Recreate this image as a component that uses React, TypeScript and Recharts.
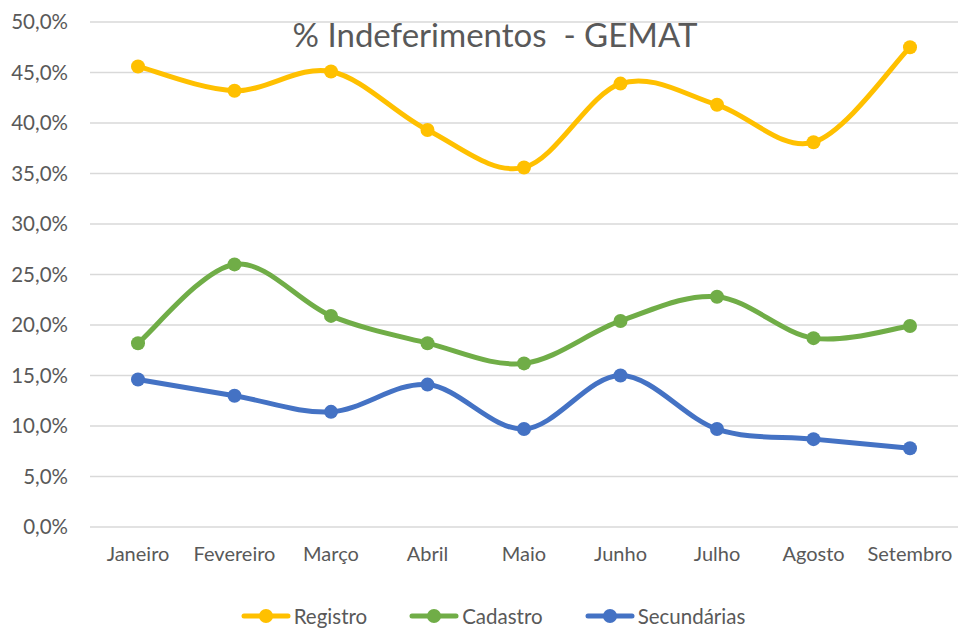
import React from 'react';
import { LineChart, Line, XAxis, YAxis, CartesianGrid } from 'recharts';

const months = ['Janeiro', 'Fevereiro', 'Março', 'Abril', 'Maio', 'Junho', 'Julho', 'Agosto', 'Setembro'];
const registro = [45.6, 43.2, 45.1, 39.3, 35.6, 43.9, 41.8, 38.1, 47.5];
const cadastro = [18.2, 26.0, 20.9, 18.2, 16.2, 20.4, 22.8, 18.7, 19.9];
const secundarias = [14.6, 13.0, 11.4, 14.1, 9.7, 15.0, 9.7, 8.7, 7.8];
const yTicks = [0, 5, 10, 15, 20, 25, 30, 35, 40, 45, 50];

const series = [
  { key: 'Registro', color: '#FFC000', values: registro },
  { key: 'Cadastro', color: '#70AD47', values: cadastro },
  { key: 'Secundárias', color: '#4472C4', values: secundarias },
];

const data = months.map((m, i) => {
  const row: any = { month: m };
  series.forEach(s => { row[s.key] = s.values[i]; });
  return row;
});

const FONT = 'Lato, "Open Sans", sans-serif';
const GREY = '#595959';

// smooth curve similar to Excel's "smoothed line" (catmull-rom style bezier)
function smoothCurve(context: any) {
  let pts: number[][] = [];
  return {
    areaStart() {},
    areaEnd() {},
    lineStart() { pts = []; },
    point(x: number, y: number) { pts.push([+x, +y]); },
    lineEnd() {
      if (!pts.length) return;
      context.moveTo(pts[0][0], pts[0][1]);
      for (let i = 0; i < pts.length - 1; i++) {
        const p0 = pts[i - 1] || pts[i];
        const p1 = pts[i];
        const p2 = pts[i + 1];
        const p3 = pts[i + 2] || pts[i + 1];
        context.bezierCurveTo(
          p1[0] + (p2[0] - p0[0]) / 6, p1[1] + (p2[1] - p0[1]) / 6,
          p2[0] - (p3[0] - p1[0]) / 6, p2[1] - (p3[1] - p1[1]) / 6,
          p2[0], p2[1]
        );
      }
    },
  };
}

const fmt = (v: number) => v.toFixed(1).replace('.', ',') + '%';

export default function App() {
  return (
    <div style={{ position: 'fixed', top: 0, left: 0, width: 958, height: 630, background: '#fff', overflow: 'hidden' }}>
      <div style={{ position: 'absolute', top: 14, left: 0, width: 990, textAlign: 'center', fontFamily: FONT, fontSize: 33, color: GREY, zIndex: 1, whiteSpace: 'pre' }}>
        {'% Indeferimentos  - GEMAT'}
      </div>
      <LineChart width={958} height={630} data={data} margin={{ top: 22, right: 0, left: 0, bottom: 73 }}>
        <CartesianGrid vertical={false} stroke="#D9D9D9" strokeWidth={1.5} />
        <XAxis
          dataKey="month"
          axisLine={false}
          tickLine={false}
          padding={{ left: 48, right: 48 }}
          tick={{ fill: GREY, fontSize: 20, fontFamily: FONT }}
          tickMargin={14}
          interval={0}
        />
        <YAxis
          width={90}
          domain={[0, 50]}
          ticks={yTicks}
          axisLine={false}
          tickLine={false}
          tickMargin={16}
          tickFormatter={fmt}
          tick={{ fill: GREY, fontSize: 20.5, fontFamily: FONT }}
          interval={0}
        />
        {series.map(s => (
          <Line
            key={s.key}
            dataKey={s.key}
            type={smoothCurve as any}
            stroke={s.color}
            strokeWidth={5}
            dot={{ r: 7, fill: s.color, stroke: s.color, strokeWidth: 0 }}
            activeDot={false}
            isAnimationActive={false}
          />
        ))}
      </LineChart>
      <div style={{ position: 'absolute', top: 604, left: 0, width: 958, display: 'flex', justifyContent: 'center', gap: 42, fontFamily: FONT, fontSize: 20.5, color: GREY, lineHeight: '24px', paddingLeft: 28, boxSizing: 'border-box' }}>
        {series.map(s => (
          <div key={s.key} style={{ display: 'flex', alignItems: 'center' }}>
            <svg width={50} height={16} style={{ marginRight: 3 }}>
              <line x1={3} y1={8} x2={47} y2={8} stroke={s.color} strokeWidth={5} strokeLinecap="round" />
              <circle cx={25} cy={8} r={7} fill={s.color} />
            </svg>
            <span>{s.key}</span>
          </div>
        ))}
      </div>
    </div>
  );
}
